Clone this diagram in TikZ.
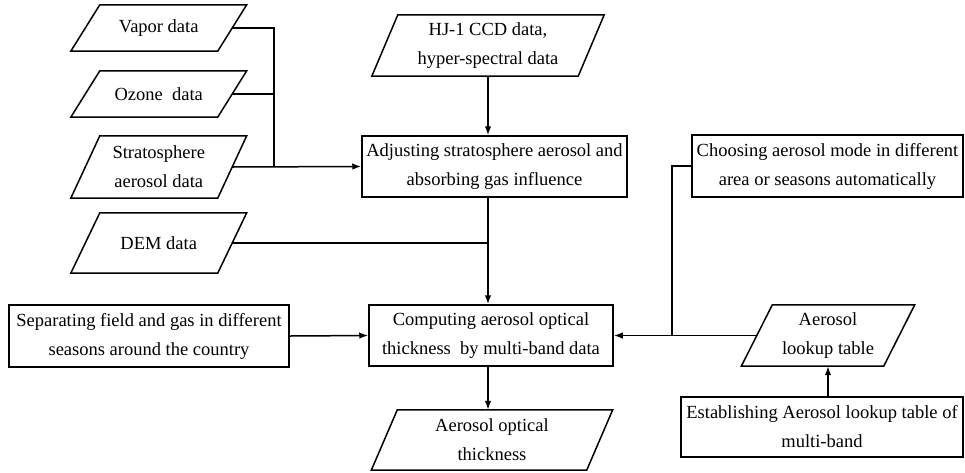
\documentclass[tikz,border=0pt]{standalone}
\usepackage{fontspec}
\setmainfont{Liberation Serif}
\usetikzlibrary{arrows.meta,calc}

% outline of a data (parallelogram) node: #1 node name, #2 horizontal slant
\newcommand\slantframe[2]{%
  \draw[frame] ([xshift=#2*0.5pt]#1.north west) -- ([xshift=#2*0.5pt]#1.north east)
    -- ([xshift=-#2*0.5pt]#1.south east) -- ([xshift=-#2*0.5pt]#1.south west) -- cycle;}

\begin{document}
\begin{tikzpicture}[x=1pt,y=-1pt,
  frame/.style={line width=1.5pt, line join=miter},
  txt/.style={font=\fontsize{18.5}{29}\selectfont, align=center, inner sep=0pt},
  procbox/.style={txt, draw, line width=1.5pt},
  databox/.style={txt},
  link/.style={line width=1.5pt},
  flow/.style={link, -{Latex[length=9pt,width=6.5pt]}}]

\useasboundingbox (0,0) rectangle (965,472);

% data inputs (parallelograms)
\node[databox, minimum width=146.5pt, minimum height=46pt] (vapor) at (158.75,28) {Vapor data};
\node[databox, minimum width=146.5pt, minimum height=46pt] (ozone) at (158.75,94) {Ozone\ \ data};
\node[databox, minimum width=146.5pt, minimum height=62pt] (strat) at (158.75,167) {Stratosphere\\aerosol data};
\node[databox, minimum width=146.5pt, minimum height=60pt] (dem) at (158.75,243) {DEM data};
\node[databox, minimum width=206pt, minimum height=61pt] (hj) at (488,45.5) {HJ-1 CCD data,\\hyper-spectral data};
\node[databox, minimum width=215pt, minimum height=60pt] (aot) at (492,440) {Aerosol optical\\thickness};
\node[databox, minimum width=142pt, minimum height=61pt] (lut) at (828,335.5) {Aerosol\\lookup table};

\slantframe{vapor}{29}
\slantframe{ozone}{29}
\slantframe{strat}{29}
\slantframe{dem}{29}
\slantframe{hj}{26}
\slantframe{aot}{26}
\slantframe{lut}{31}

% processing steps (rectangles)
\node[procbox, minimum width=265pt, minimum height=61pt] (adjust) at (494.5,166.5)
  {Adjusting stratosphere aerosol and\\absorbing gas influence};
\node[procbox, minimum width=244pt, minimum height=61pt] (compute) at (491,335.5)
  {Computing aerosol optical\\thickness\ \ by multi-band data};
\node[procbox, minimum width=280pt, minimum height=62pt] (separate) at (149,336)
  {Separating field and gas in different\\seasons around the country};
\node[procbox, minimum width=271pt, minimum height=62pt] (choose) at (827.5,166)
  {Choosing aerosol mode in different\\area or seasons automatically};
\node[procbox, minimum width=282pt, minimum height=60pt] (establish) at (822,427)
  {Establishing Aerosol lookup table of\\multi-band};

% junction points of the merging lines
\coordinate (bus) at (274,167);
\coordinate (join) at (672,335.5);

% connectors
\draw[link] (vapor.east) -| (bus);
\draw[link] (ozone.east) -| (bus);
\draw[flow] (strat.east) -- (adjust.west);
\draw[flow] (hj.south) -- (hj.south |- adjust.north);
\draw[flow] (adjust.south -| hj.south) -- (compute.north -| hj.south);
\draw[link] (dem.east) -- (dem.east -| hj.south);
\draw[flow] (separate.east) -- (compute.west);
\draw[flow] (compute.south -| hj.south) -- (aot.north -| hj.south);
\draw[link] (choose.west) -| (join);
\draw[flow] (lut.west) -- (compute.east);
\draw[flow] (lut.south |- establish.north) -- (lut.south);

\end{tikzpicture}
\end{document}
